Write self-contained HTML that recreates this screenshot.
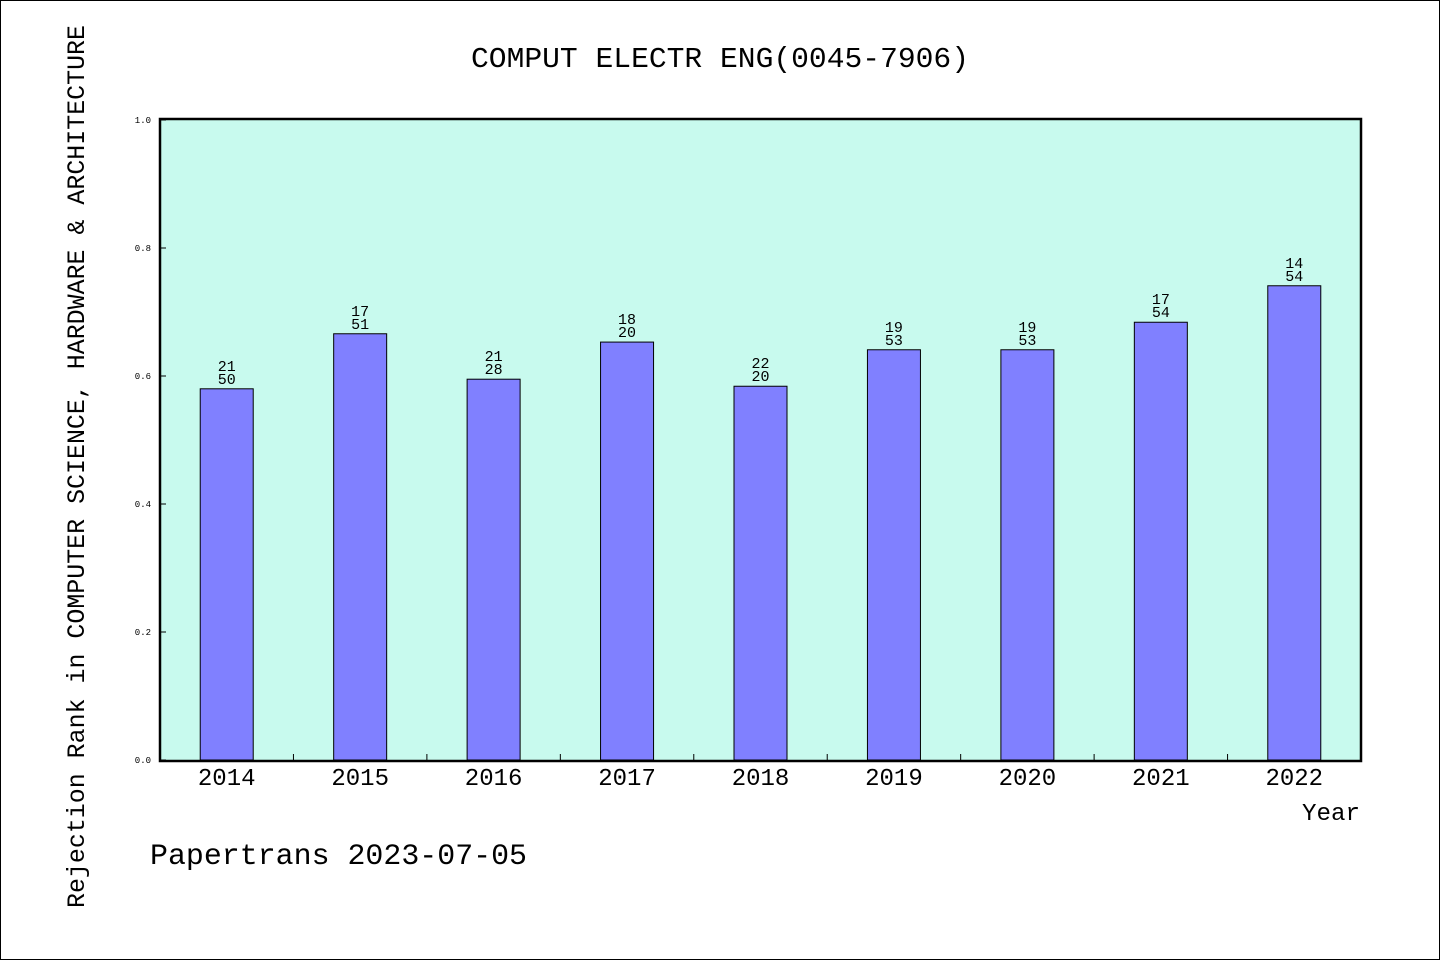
<!DOCTYPE html>
<html><head><meta charset="utf-8"><style>
html,body{margin:0;padding:0;background:#fff}
svg{display:block}
text{font-family:"Liberation Mono","WenQuanYi Zen Hei",monospace;fill:#000}
</style></head><body>
<svg id="chart" width="1440" height="960" xmlns="http://www.w3.org/2000/svg">
<rect x="0.5" y="0.5" width="1439" height="959" fill="#fff" stroke="#000"/>
<text x="471" y="67" font-size="29" textLength="498" lengthAdjust="spacingAndGlyphs">COMPUT ELECTR ENG(0045-7906)</text>
<rect x="160" y="119" width="1201" height="642" fill="#c8faee"/>
<g id="bars"></g>
<rect x="160" y="119" width="1201" height="642" fill="none" stroke="#000" stroke-width="2.5"/>
<g id="axes"></g>
<text transform="translate(84,908) rotate(-90)" font-size="25" textLength="883" lengthAdjust="spacingAndGlyphs">Rejection Rank in COMPUTER SCIENCE, HARDWARE &amp; ARCHITECTURE</text>
<text x="1302" y="820" font-size="24" textLength="58" lengthAdjust="spacingAndGlyphs">Year</text>
<text x="150" y="864" font-size="30" textLength="377" lengthAdjust="spacingAndGlyphs">Papertrans 2023-07-05</text>
</svg>
<script>
const categories = ["2014","2015","2016","2017","2018","2019","2020","2021","2022"];
const values = [0.580,0.666,0.595,0.653,0.584,0.641,0.641,0.684,0.741];
const labelTop = ["21","17","21","18","22","19","19","17","14"];
const labelBottom = ["50","51","28","20","20","53","53","54","54"];
const yTicks = ["0.0","0.2","0.4","0.6","0.8","1.0"];
const NS="http://www.w3.org/2000/svg";
const x0=160,x1=1361,yBase=760,yTopPx=120;
const band=(x1-x0)/categories.length;
function xc(i){return x0+(i+0.5)*band;}
function y(v){return yBase-(yBase-yTopPx)*v;}
function mk(tag,attrs,parent,txt){const e=document.createElementNS(NS,tag);for(const k in attrs)e.setAttribute(k,attrs[k]);if(txt!==undefined)e.textContent=txt;parent.appendChild(e);return e;}
const bars=document.getElementById('bars'),axes=document.getElementById('axes');
const bw=53;
categories.forEach((c,i)=>{
  const r=mk('rect',{x:xc(i)-bw/2,y:y(values[i]),width:bw,height:yBase-y(values[i]),fill:'#8080ff',stroke:'#000','stroke-width':1},bars);
  
  
  const t1=mk('text',{x:xc(i),y:y(values[i])-18,'font-size':15,'text-anchor':'middle'},bars,labelTop[i]);
  
  
  const t2=mk('text',{x:xc(i),y:y(values[i])-5,'font-size':15,'text-anchor':'middle'},bars,labelBottom[i]);
  
  
  const xl=mk('text',{x:xc(i),y:785,'font-size':24,'text-anchor':'middle'},axes,c);
  
  
  if(i>0){
    const tk=mk('line',{x1:x0+i*band,x2:x0+i*band,y1:yBase,y2:yBase-6,stroke:'#000'},axes);
    
    
  }
});
yTicks.forEach(t=>{
  const v=parseFloat(t);
  const tk=mk('line',{x1:x0,x2:x0+6,y1:y(v),y2:y(v),stroke:'#000'},axes);
  
  
  const tl=mk('text',{x:151,y:y(v)+3,'font-size':9,'text-anchor':'end'},axes,t);
  
  
});
</script>
</body></html>
